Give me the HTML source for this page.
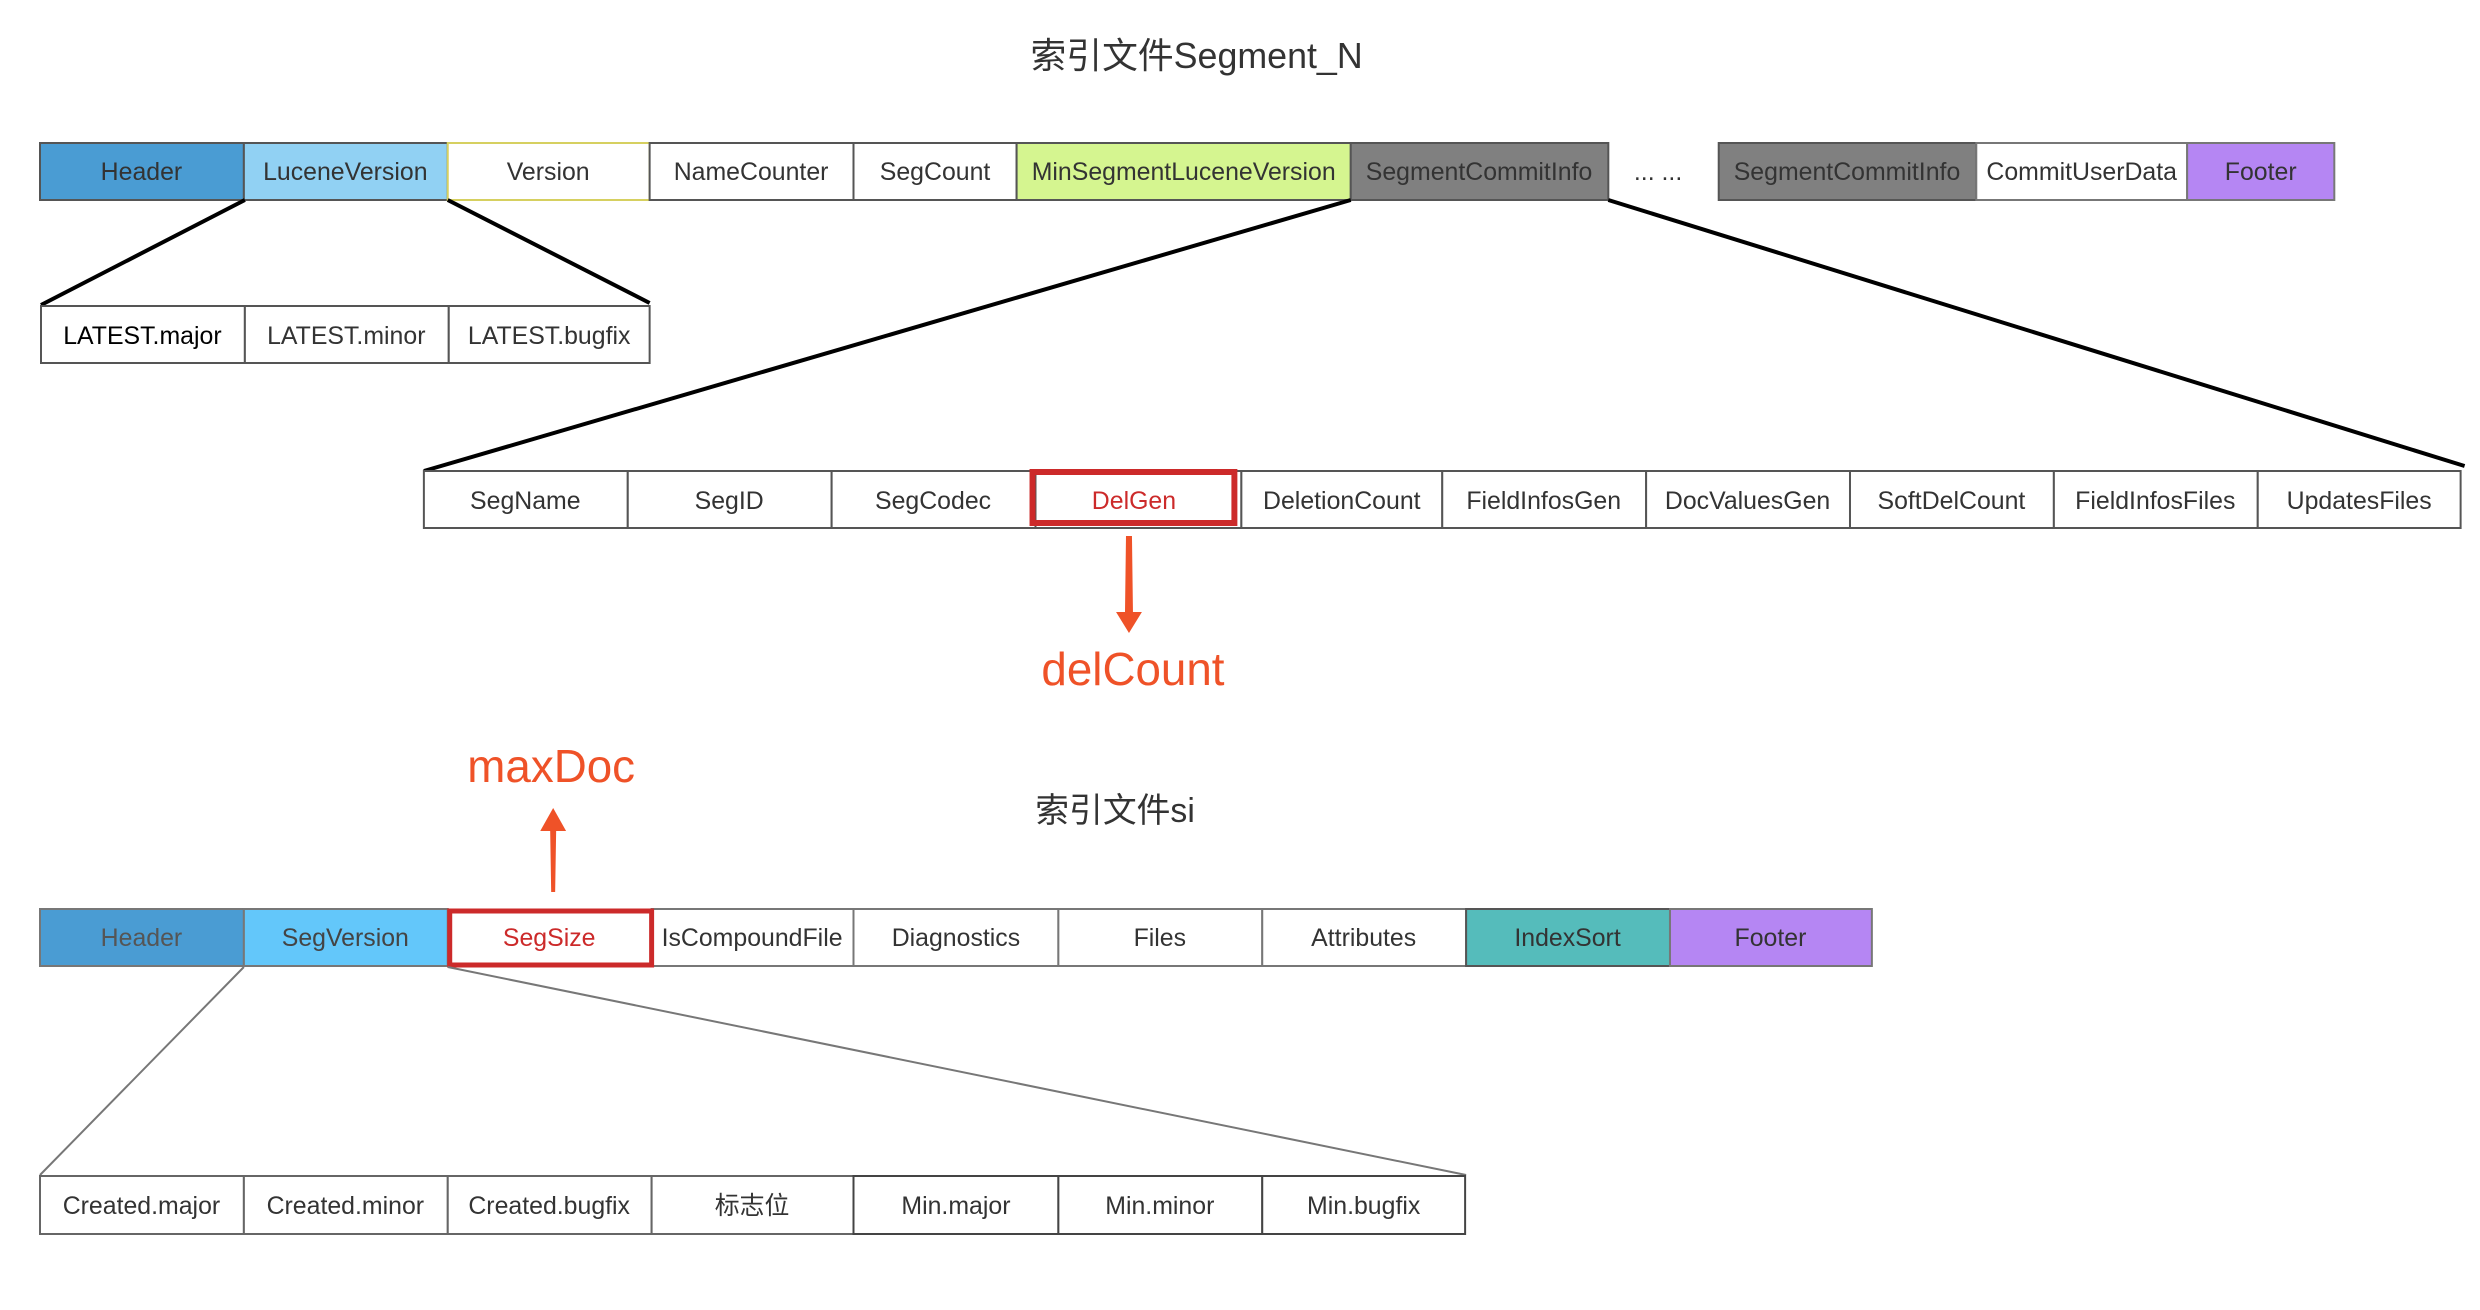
<!DOCTYPE html>
<html><head><meta charset="utf-8"><style>
html,body{margin:0;padding:0;background:#fff;}
svg{display:block;}
text{font-family:"Liberation Sans","Noto Sans CJK SC",sans-serif;}
</style></head><body>
<svg width="2480" height="1310" viewBox="0 0 2480 1310" xmlns="http://www.w3.org/2000/svg">
<g font-size="25" fill="#333" text-anchor="middle" dominant-baseline="central" transform="translate(40,0) scale(0.9945,1) translate(-40,0)">
<text x="1203" y="56" font-size="36">索引文件Segment_N</text>

<g stroke="#555" stroke-width="2">
<rect x="40" y="143" width="205" height="57" fill="#4a9cd3"/>
<rect x="245" y="143" width="205" height="57" fill="#91d1f3"/>
<rect x="450" y="143" width="203" height="57" fill="#fff" stroke="#d6d060"/>
<rect x="653" y="143" width="205" height="57" fill="#fff"/>
<rect x="858" y="143" width="164" height="57" fill="#fff"/>
<rect x="1022" y="143" width="336" height="57" fill="#d5f590"/>
<rect x="1358" y="143" width="259" height="57" fill="#808080"/>
<rect x="1728" y="143" width="259" height="57" fill="#808080"/>
<rect x="1987" y="143" width="212" height="57" fill="#fff" stroke="#777"/>
<rect x="2199" y="143" width="148" height="57" fill="#b586f3" stroke="#777"/>
</g>
<text x="142" y="172">Header</text>
<text x="347" y="172">LuceneVersion</text>
<text x="551" y="172">Version</text>
<text x="755" y="172">NameCounter</text>
<text x="940" y="172">SegCount</text>
<text x="1190" y="172">MinSegmentLuceneVersion</text>
<text x="1487" y="172">SegmentCommitInfo</text>
<text x="1667" y="172">... ...</text>
<text x="1857" y="172">SegmentCommitInfo</text>
<text x="2093" y="172">CommitUserData</text>
<text x="2273" y="172">Footer</text>

<g stroke="#000" stroke-width="4">
<line x1="246" y1="200" x2="41" y2="305"/>
<line x1="450" y1="200" x2="653" y2="303"/>
<line x1="1358" y1="200" x2="426" y2="471"/>
<line x1="1617" y1="200" x2="2478" y2="466"/>
</g>

<g stroke="#555" stroke-width="2" fill="#fff">
<rect x="41" y="306" width="205" height="57"/>
<rect x="246" y="306" width="205" height="57"/>
<rect x="451" y="306" width="202" height="57"/>
</g>
<text x="143" y="336" fill="#000">LATEST.major</text>
<text x="348" y="336">LATEST.minor</text>
<text x="552" y="336">LATEST.bugfix</text>

<g stroke="#555" stroke-width="2" fill="#fff">
<rect x="426" y="471" width="205" height="57"/>
<rect x="631" y="471" width="205" height="57"/>
<rect x="836" y="471" width="205" height="57"/>
<rect x="1041" y="471" width="207" height="57"/>
<rect x="1248" y="471" width="202" height="57"/>
<rect x="1450" y="471" width="205" height="57"/>
<rect x="1655" y="471" width="205" height="57"/>
<rect x="1860" y="471" width="205" height="57"/>
<rect x="2065" y="471" width="205" height="57"/>
<rect x="2270" y="471" width="204" height="57"/>
</g>
<rect x="1038" y="472" width="203" height="51" fill="none" stroke="#cc2a2a" stroke-width="6"/>
<text x="528" y="501">SegName</text>
<text x="733" y="501">SegID</text>
<text x="938" y="501">SegCodec</text>
<text x="1140" y="501" fill="#cc2a2a">DelGen</text>
<text x="1349" y="501">DeletionCount</text>
<text x="1552" y="501">FieldInfosGen</text>
<text x="1757" y="501">DocValuesGen</text>
<text x="1962" y="501">SoftDelCount</text>
<text x="2167" y="501">FieldInfosFiles</text>
<text x="2372" y="501">UpdatesFiles</text>

<polygon points="1132,536 1138,536 1139,612 1148,612 1135,633 1122,612 1131,612" fill="#ef5228"/>
<text x="1139" y="669" font-size="46" fill="#ef5228">delCount</text>

<text x="554" y="766" font-size="46" fill="#ef5228">maxDoc</text>
<polygon points="554,892 558,892 559,831 569,831 556,808 543,831 553,831" fill="#ef5228"/>
<text x="1121" y="811" font-size="34">索引文件si</text>

<g stroke="#777" stroke-width="2">
<rect x="40" y="909" width="205" height="57" fill="#4a9cd3"/>
<rect x="245" y="909" width="205" height="57" fill="#63c7fa"/>
<rect x="655" y="909" width="203" height="57" fill="#fff"/>
<rect x="858" y="909" width="206" height="57" fill="#fff"/>
<rect x="1064" y="909" width="205" height="57" fill="#fff"/>
<rect x="1269" y="909" width="205" height="57" fill="#fff"/>
<rect x="1474" y="909" width="205" height="57" fill="#55bcbb" stroke="#555"/>
<rect x="1679" y="909" width="203" height="57" fill="#b586f3"/>
</g>
<rect x="452" y="911" width="203" height="54" fill="#fff" stroke="#cc2a2a" stroke-width="5"/>
<text x="142" y="938" fill="#555">Header</text>
<text x="347" y="938" fill="#444">SegVersion</text>
<text x="552" y="938" fill="#cc2a2a">SegSize</text>
<text x="756" y="938">IsCompoundFile</text>
<text x="961" y="938">Diagnostics</text>
<text x="1166" y="938">Files</text>
<text x="1371" y="938">Attributes</text>
<text x="1576" y="938">IndexSort</text>
<text x="1780" y="938">Footer</text>

<g stroke="#777" stroke-width="2">
<line x1="245" y1="967" x2="40" y2="1175"/>
<line x1="450" y1="967" x2="1474" y2="1175"/>
</g>

<g stroke="#666" stroke-width="2" fill="#fff">
<rect x="40" y="1176" width="205" height="58"/>
<rect x="245" y="1176" width="205" height="58"/>
<rect x="450" y="1176" width="205" height="58"/>
<rect x="655" y="1176" width="203" height="58"/>
<rect x="858" y="1176" width="206" height="58" stroke="#444"/>
<rect x="1064" y="1176" width="205" height="58" stroke="#444"/>
<rect x="1269" y="1176" width="204" height="58" stroke="#444"/>
</g>
<text x="142" y="1206">Created.major</text>
<text x="347" y="1206">Created.minor</text>
<text x="552" y="1206">Created.bugfix</text>
<text x="756" y="1206">标志位</text>
<text x="961" y="1206">Min.major</text>
<text x="1166" y="1206">Min.minor</text>
<text x="1371" y="1206">Min.bugfix</text>
</g>
</svg>
</body></html>
